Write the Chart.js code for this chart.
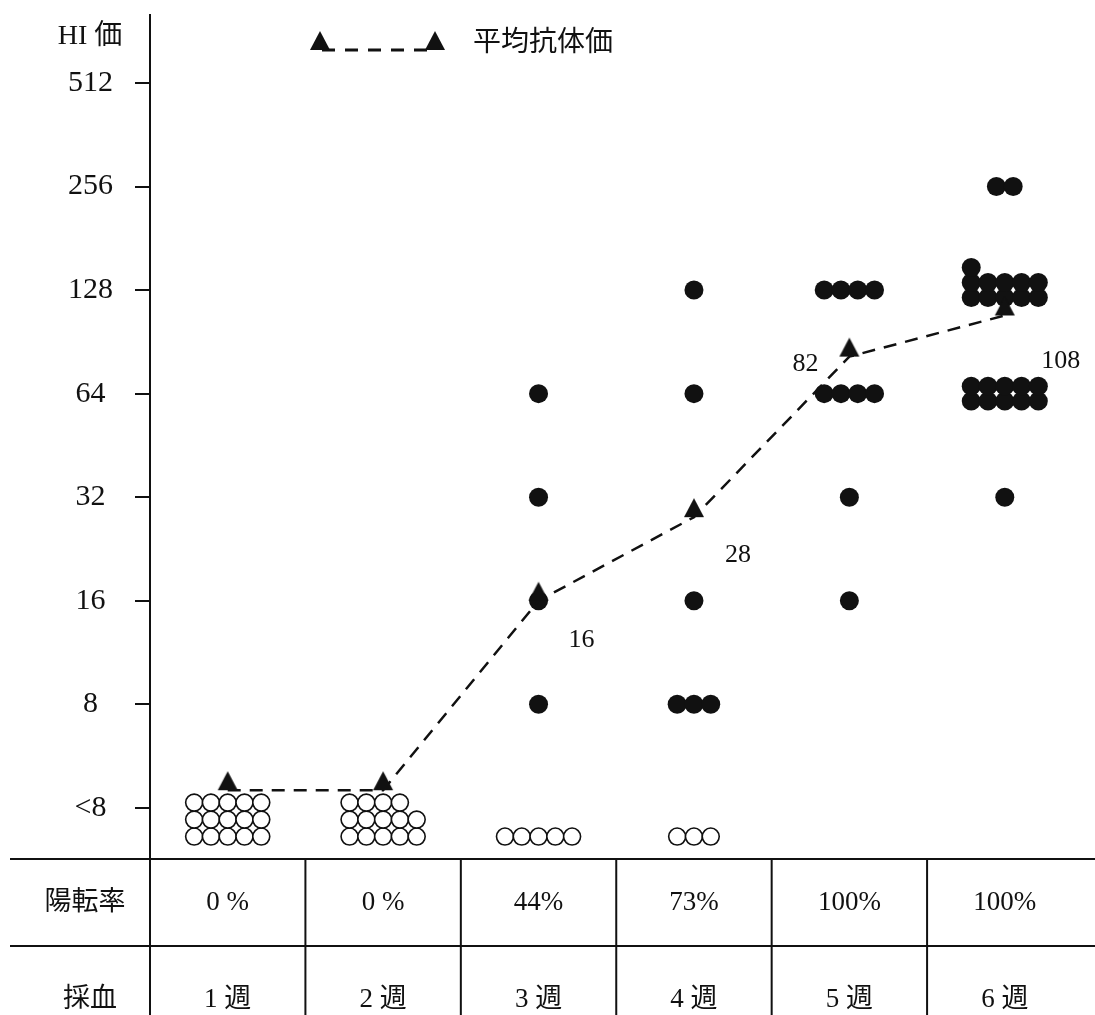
<!DOCTYPE html>
<html>
<head>
<meta charset="utf-8">
<script src="https://cdn.jsdelivr.net/npm/chart.js@4.4.0/dist/chart.umd.min.js"></script>
<style>
body { margin: 0; background: #fff; }
#wrap { width: 1095px; height: 1015px; }
</style>
</head>
<body>
<div id="wrap"><canvas id="chart"></canvas></div>
<script>
var weeks = ['1 週', '2 週', '3 週', '4 週', '5 週', '6 週'];
var rates = ['0 %', '0 %', '44%', '73%', '100%', '100%'];
var tickValues = [4, 8, 16, 32, 64, 128, 256, 512];
var tickLabels = ['<8', '8', '16', '32', '64', '128', '256', '512'];

// 陽性例の HI 価 (1 点 = 1 例)
var positives = [
    [],
    [],
    [64, 32, 16, 8],
    [128, 64, 16, 8, 8, 8],
    [128, 128, 128, 128, 64, 64, 64, 64, 32, 16],
    [256, 256,
     128, 128, 128, 128, 128, 128, 128, 128, 128, 128, 128,
     64, 64, 64, 64, 64, 64, 64, 64, 64, 64,
     32]
];
// <8 の例数
var negatives = [15, 14, 5, 3];
var belowLimit = 3.3;

var meanTiter = [4.5, 4.5, 16, 28, 82, 108];
var meanLabels = ['', '', '16', '28', '82', '108'];

var ink = '#111';
var serif = '"Liberation Serif", "Noto Sans CJK JP", serif';

// 点の並べ方
var colStep = 17 / 157.5;
var pxPerDoubling = 103.6;
function shiftY(v, px) {
    return v * Math.pow(2, -px / pxPerDoubling);
}

function placeGroup(out, week, value, n, rowGap, fromBottom) {
    if (n <= 5) {
        for (var c = 0; c < n; c++) {
            out.push({ x: week + (c - (n - 1) / 2) * colStep, y: value });
        }
        return;
    }
    var full = Math.floor(n / 5);
    var rem = n % 5;
    for (var r = 0; r <= full; r++) {
        var cnt = r < full ? 5 : rem;
        var off = fromBottom ? -r * rowGap : ((full - 1) / 2 - r) * rowGap;
        for (var c = 0; c < cnt; c++) {
            out.push({ x: week + (c - 2) * colStep, y: shiftY(value, off) });
        }
    }
}

var filledPts = [];
positives.forEach(function (list, w) {
    var counts = {};
    list.forEach(function (v) { counts[v] = (counts[v] || 0) + 1; });
    Object.keys(counts).forEach(function (k) {
        placeGroup(filledPts, w, Number(k), counts[k], 15, false);
    });
});
var openPts = [];
negatives.forEach(function (n, w) {
    placeGroup(openPts, w, belowLimit, n, 17, true);
});

function makeTriangle() {
    var c = document.createElement('canvas');
    c.width = 22;
    c.height = 40;
    var g = c.getContext('2d');
    g.fillStyle = ink;
    g.beginPath();
    g.moveTo(11, 1);
    g.lineTo(21, 20);
    g.lineTo(1, 20);
    g.closePath();
    g.fill();
    return c;
}
var tri = makeTriangle();

var labelOffsets = [[0, 0], [0, 0], [43, 39], [44, 38], [-44, 8], [56, 46]];

var extras = {
    id: 'extras',
    afterDraw: function (chart) {
        var ctx = chart.ctx;
        var xs = chart.scales.x;
        var area = chart.chartArea;
        ctx.save();
        ctx.fillStyle = ink;
        ctx.strokeStyle = ink;
        ctx.textAlign = 'center';
        ctx.textBaseline = 'middle';

        // 軸タイトル
        ctx.font = '28px ' + serif;
        ctx.fillText('HI 価', 90, 37);

        // 凡例
        ctx.lineWidth = 3;
        ctx.setLineDash([13, 10]);
        ctx.beginPath();
        ctx.moveTo(322, 50);
        ctx.lineTo(435, 50);
        ctx.stroke();
        ctx.setLineDash([]);
        ctx.drawImage(tri, 320 - 11, 50 - 20);
        ctx.drawImage(tri, 435 - 11, 50 - 20);
        ctx.textAlign = 'left';
        ctx.fillText('平均抗体価', 473, 44);

        // 平均値ラベル
        var meta = chart.getDatasetMeta(2);
        ctx.textAlign = 'center';
        ctx.font = '26px ' + serif;
        meta.data.forEach(function (pt, i) {
            if (!meanLabels[i]) return;
            ctx.fillText(meanLabels[i], pt.x + labelOffsets[i][0], pt.y + labelOffsets[i][1]);
        });

        // 表
        var top = area.bottom;
        var mid = 946;
        var bottom = chart.height;
        ctx.lineWidth = 2;
        ctx.beginPath();
        ctx.moveTo(10, top); ctx.lineTo(chart.width, top);
        ctx.moveTo(10, mid); ctx.lineTo(chart.width, mid);
        ctx.moveTo(area.left, top); ctx.lineTo(area.left, bottom);
        for (var i = 0; i < weeks.length - 1; i++) {
            var bx = xs.getPixelForValue(i + 0.5);
            ctx.moveTo(bx, top); ctx.lineTo(bx, bottom);
        }
        ctx.stroke();

        ctx.font = '27px ' + serif;
        ctx.fillText('陽転率', 85, 903);
        ctx.fillText('採血', 90, 1000);
        for (var j = 0; j < weeks.length; j++) {
            var cx = xs.getPixelForValue(j);
            ctx.fillText(rates[j], cx, 903);
            ctx.fillText(weeks[j], cx, 1000);
        }
        ctx.restore();
    }
};

var ctx = document.getElementById('chart');
var myChart = new Chart(ctx, {
    type: 'scatter',
    data: {
        datasets: [
            {
                data: filledPts,
                backgroundColor: ink,
                borderWidth: 0,
                pointRadius: 9.5,
                order: 2
            },
            {
                data: openPts,
                backgroundColor: '#fff',
                borderColor: ink,
                borderWidth: 1.6,
                pointRadius: 8.5,
                order: 3
            },
            {
                type: 'line',
                data: meanTiter.map(function (v, i) { return { x: i, y: v }; }),
                borderColor: ink,
                borderWidth: 2.5,
                borderDash: [13, 9],
                pointStyle: tri,
                pointRadius: 10,
                fill: false,
                tension: 0,
                order: 1
            }
        ]
    },
    options: {
        responsive: true,
        maintainAspectRatio: false,
        animation: false,
        events: [],
        layout: { padding: { left: 0, right: 0, top: 15, bottom: 156 } },
        plugins: {
            legend: { display: false },
            tooltip: { enabled: false }
        },
        scales: {
            x: {
                type: 'linear',
                min: -0.5,
                max: 5.5,
                display: false
            },
            y: {
                type: 'logarithmic',
                min: 2.84,
                max: 807,
                bounds: 'data',
                afterFit: function (scale) {
                    scale.width = 150;
                    scale.paddingTop = 0;
                    scale.paddingBottom = 0;
                },
                afterBuildTicks: function (scale) {
                    scale.ticks = tickValues.map(function (v) { return { value: v }; });
                },
                grid: {
                    drawOnChartArea: false,
                    drawTicks: true,
                    tickLength: 15,
                    lineWidth: 2,
                    color: ink
                },
                border: { display: true, color: ink, width: 2 },
                ticks: {
                    autoSkip: false,
                    crossAlign: 'center',
                    padding: 22,
                    color: ink,
                    font: { family: serif, size: 30 },
                    callback: function (value, index) { return tickLabels[index]; }
                }
            }
        }
    },
    plugins: [extras]
});
</script>
</body>
</html>
